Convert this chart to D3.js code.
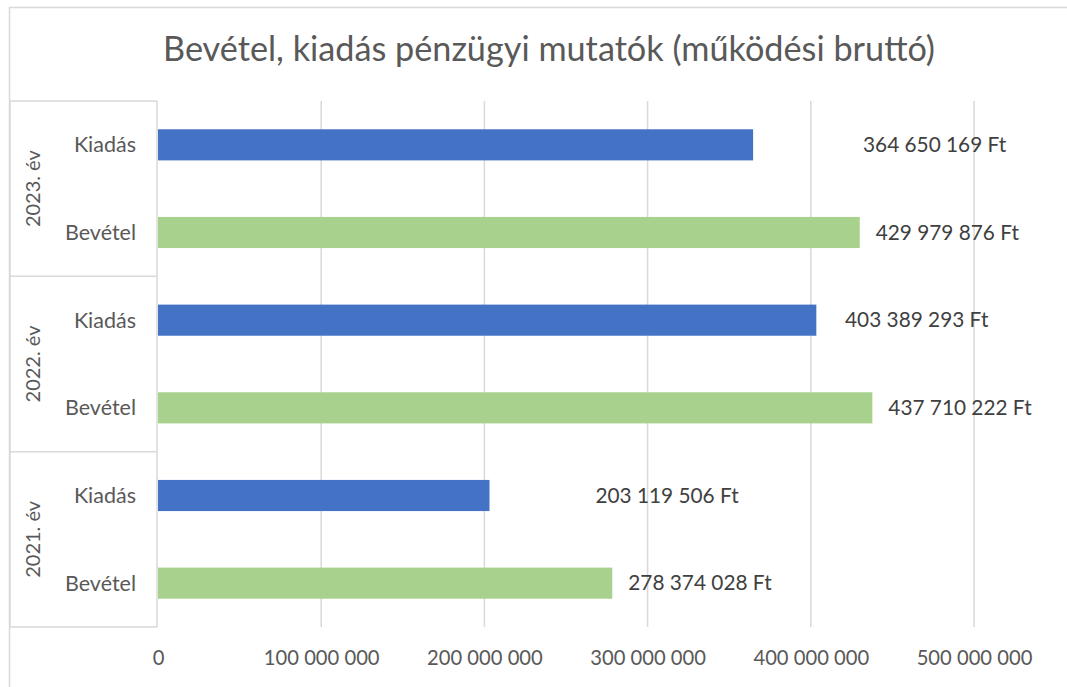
<!DOCTYPE html>
<html><head><meta charset="utf-8">
<script src="https://cdn.jsdelivr.net/npm/d3@7"></script>
<style>
body{margin:0;background:#fff;}
svg{display:block;font-family:Lato,"Open Sans",sans-serif;}
</style></head>
<body><svg id="c" width="1067" height="687"></svg>
<script>
const title = "Bevétel, kiadás pénzügyi mutatók (működési bruttó)";
const years = ["2023. év", "2022. év", "2021. év"];
const measures = ["Kiadás", "Bevétel"];
const kiadas = [364650169, 403389293, 203119506];
const bevetel = [429979876, 437710222, 278374028];
// where each Kiadás data label starts, in axis units (as placed in the original)
const kiadasLabelAt = [432000000, 421000000, 268000000];
const tickValues = [0, 100000000, 200000000, 300000000, 400000000, 500000000];

(function () {
const svg = d3.select("#c");
const W = 1067, H = 687;
const pl = 158, pr = 974, pt = 101, pb = 627;
const catLeft = 10;

// outer frame lines
svg.append("line").attr("x1", 9).attr("x2", W).attr("y1", 7.5).attr("y2", 7.5).attr("stroke", "#d9d9d9").attr("stroke-width", 1.5);
svg.append("line").attr("x1", 9.5).attr("x2", 9.5).attr("y1", 7).attr("y2", H).attr("stroke", "#d9d9d9").attr("stroke-width", 1.5);

const x = d3.scaleLinear().domain([0, 500000000]).range([pl, pr]);
const yYear = d3.scaleBand().domain(years).range([pt, pb]);
const yMeasure = d3.scaleBand().domain(measures).range([0, yYear.bandwidth()]).paddingInner(0.645).paddingOuter(0.3225);

const fmt = v => d3.format(",")(v).replace(/,/g, " ");

// gridlines
svg.append("g").selectAll("line").data(tickValues.slice(1)).join("line")
  .attr("x1", d => x(d)).attr("x2", d => x(d))
  .attr("y1", pt).attr("y2", pb)
  .attr("stroke", "#d9d9d9").attr("stroke-width", 1.5);

// x axis labels
const xAxis = d3.axisBottom(x).tickValues(tickValues).tickSize(0).tickPadding(0).tickFormat(fmt);
const gx = svg.append("g").attr("transform", `translate(0,${pb})`).call(xAxis);
gx.select(".domain").remove();
gx.selectAll("text").attr("y", 31).attr("dy", "0.35em").attr("fill", "#595959")
  .style("font-size", "20.2px").style("font-family", "Lato, sans-serif");

// category box
const box = svg.append("g").attr("stroke", "#d9d9d9").attr("stroke-width", 1.5).attr("fill", "none");
box.append("line").attr("x1", pl - 1).attr("x2", pl - 1).attr("y1", pt).attr("y2", pb);
box.append("line").attr("x1", catLeft).attr("x2", catLeft).attr("y1", pt).attr("y2", pb);
const boundaries = [pt].concat(years.map(d => yYear(d) + yYear.bandwidth()));
box.selectAll("line.h").data(boundaries).join("line").attr("class", "h")
  .attr("x1", catLeft).attr("x2", pl - 1).attr("y1", d => d).attr("y2", d => d);

// rows
const rows = [];
years.forEach((yr, i) => {
  rows.push({year: yr, m: "Kiadás", v: kiadas[i], labelAt: kiadasLabelAt[i], color: "#4472c4"});
  rows.push({year: yr, m: "Bevétel", v: bevetel[i], labelAt: null, color: "#a9d18e"});
});
const yPos = d => yYear(d.year) + yMeasure(d.m);

svg.append("g").selectAll("rect").data(rows).join("rect")
  .attr("x", x(0)).attr("y", yPos)
  .attr("width", d => x(d.v) - x(0)).attr("height", yMeasure.bandwidth())
  .attr("fill", d => d.color);

// data labels
svg.append("g").selectAll("text").data(rows).join("text")
  .attr("x", d => d.labelAt === null ? x(d.v) + 16 : x(d.labelAt))
  .attr("y", d => yPos(d) + yMeasure.bandwidth() / 2)
  .attr("dy", "0.35em").attr("fill", "#404040").style("font-size", "20.8px")
  .text(d => fmt(d.v) + " Ft");

// measure labels
svg.append("g").selectAll("text").data(rows).join("text")
  .attr("x", 136).attr("y", d => yPos(d) + yMeasure.bandwidth() / 2)
  .attr("dy", "0.35em").attr("text-anchor", "end").attr("fill", "#595959").style("font-size", "21.5px")
  .text(d => d.m);

// year labels
svg.append("g").selectAll("text").data(years).join("text")
  .attr("transform", d => `translate(33,${yYear(d) + yYear.bandwidth() / 2}) rotate(-90)`)
  .attr("dy", "0.35em").attr("text-anchor", "middle").attr("fill", "#595959").style("font-size", "20px")
  .text(d => d);

// title
const t = svg.append("text").attr("x", 549).attr("y", 61).attr("text-anchor", "middle")
  .attr("fill", "#595959").style("font-size", "34px").text(title);
const len = t.node().getComputedTextLength();
t.style("font-size", (34 * 772 / len).toFixed(2) + "px");
})();
</script>
</body></html>
